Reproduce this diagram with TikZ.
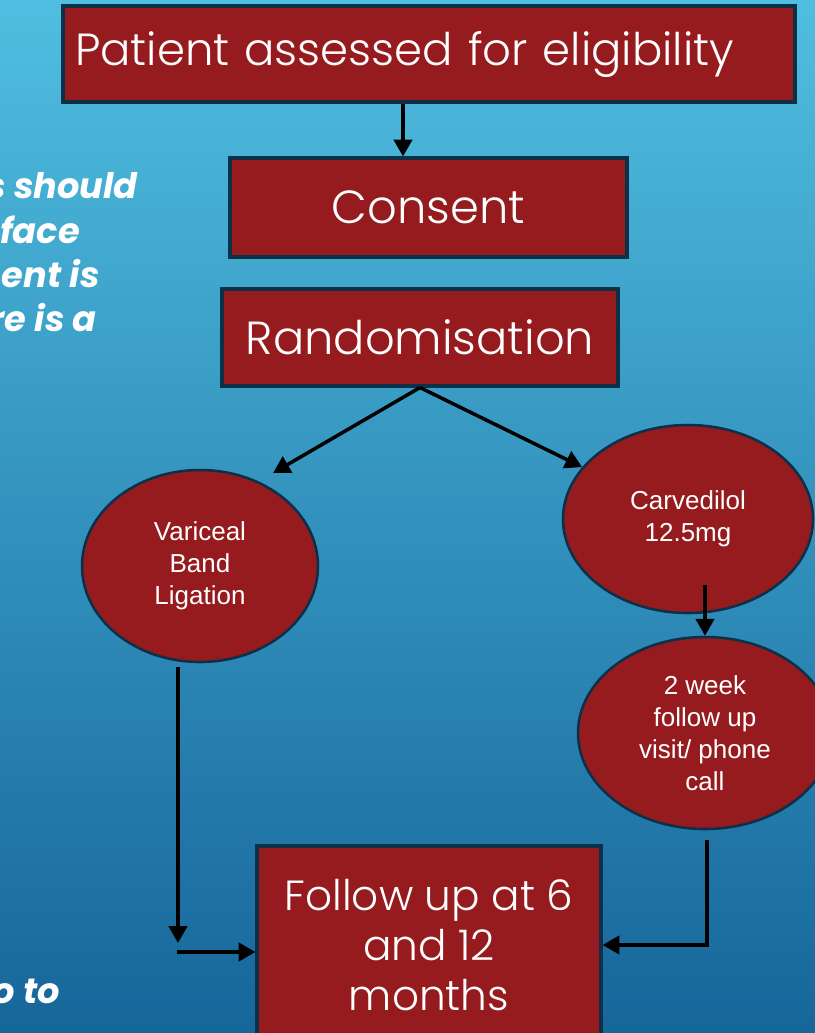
\documentclass[tikz,border=0pt]{standalone}
\usepackage{fontspec}
\setmainfont{Poppins}
\newfontfamily\thinfont{Poppins}[UprightFont=* Light]
\newfontfamily\arialfont{Liberation Sans}
\usetikzlibrary{shapes.geometric,arrows.meta}

\definecolor{boxred}{RGB}{150,27,30}
\definecolor{boxedge}{RGB}{12,48,72}
\definecolor{bgtop}{RGB}{80,190,224}
\definecolor{bgbot}{RGB}{22,102,154}

\newcommand{\pix}{0.025cm}

\tikzset{
  stepbox/.style={draw=boxedge, line width=2.2pt, fill=boxred, text=white,
    inner sep=0pt, align=center, font=\thinfont\fontsize{33}{40}\selectfont},
  armbox/.style={ellipse, draw=boxedge, line width=1.8pt, fill=boxred, text=white,
    inner sep=0pt, align=center, font=\arialfont\fontsize{18.5}{22.8}\selectfont},
  arr/.style={-{Triangle[length=12pt,width=13pt]}, line width=2.5pt},
  sidenote/.style={anchor=base east, text=white, inner sep=0pt,
    font=\bfseries\itshape\fontsize{25}{32}\selectfont}
}

\begin{document}
\begin{tikzpicture}[x=0.025cm, y=-0.025cm]
  % Background
  \useasboundingbox (0,0) rectangle (815,1033);
  \clip (0,0) rectangle (815,1033);
  \shade[top color=bgtop, bottom color=bgbot] (0,0) rectangle (815,1033);

  % Cut-off notes on the left
  \node[sidenote] (n1) at (138,198) {s should};
  \node[sidenote] (n2) at (80,243) {face};
  \node[sidenote] (n3) at (100,287) {sent is};
  \node[sidenote] (n4) at (97,331) {re is a};
  \node[sidenote] (n5) at (60,1003) {so to};

  % Steps
  \node[stepbox, minimum width=732*\pix, minimum height=96*\pix,
    text width=708*\pix, inner xsep=12*\pix, align=left,
    font=\thinfont\fontsize{32}{40}\selectfont] (pat) at (429,54)
    {Patient assessed for eligibility};
  \node[stepbox, minimum width=397*\pix, minimum height=99*\pix] (cons) at (428.5,207.5) {Consent};
  \node[stepbox, minimum width=396*\pix, minimum height=97*\pix] (rand) at (420,337.5) {Randomisation};
  \node[stepbox, minimum width=344*\pix, minimum height=198*\pix,
    font=\thinfont\fontsize{30}{35.6}\selectfont] (fol) at (429,945) {Follow up at 6\\and 12\\months};

  % Trial arms
  \node[armbox, minimum width=236*\pix, minimum height=192*\pix] (vbl) at (200,566) {Variceal\\Band\\Ligation};
  \node[armbox, minimum width=250*\pix, minimum height=188*\pix] (carv) at (688,519) {Carvedilol\\12.5mg};
  \node[armbox, minimum width=254*\pix, minimum height=192*\pix] (fwk) at (705,733) {2 week\\follow up\\visit/ phone\\call};

  % Free ends of connectors
  \coordinate (topx) at (403,0);
  \coordinate (vbltip) at (273,473);
  \coordinate (carvout) at (705,585);
  \coordinate (vblout) at (178,667);
  \coordinate (vbldown) at (178,943);
  \coordinate (lturn) at (177,952);
  \coordinate (fwkout) at (707,840);

  % Arrows
  \draw[arr] (pat.south -| topx) -- (cons.north -| topx);
  \draw[arr] (rand.south) -- (vbltip);
  \draw[arr] (rand.south) -- (carv);
  \draw[arr] (carvout) -- (fwk.north);
  \draw[arr] (vblout) -- (vbldown);
  \draw[arr] (lturn) -- (lturn -| fol.west);
  \draw[arr] (fwkout) |- (fol.east);
\end{tikzpicture}
\end{document}
